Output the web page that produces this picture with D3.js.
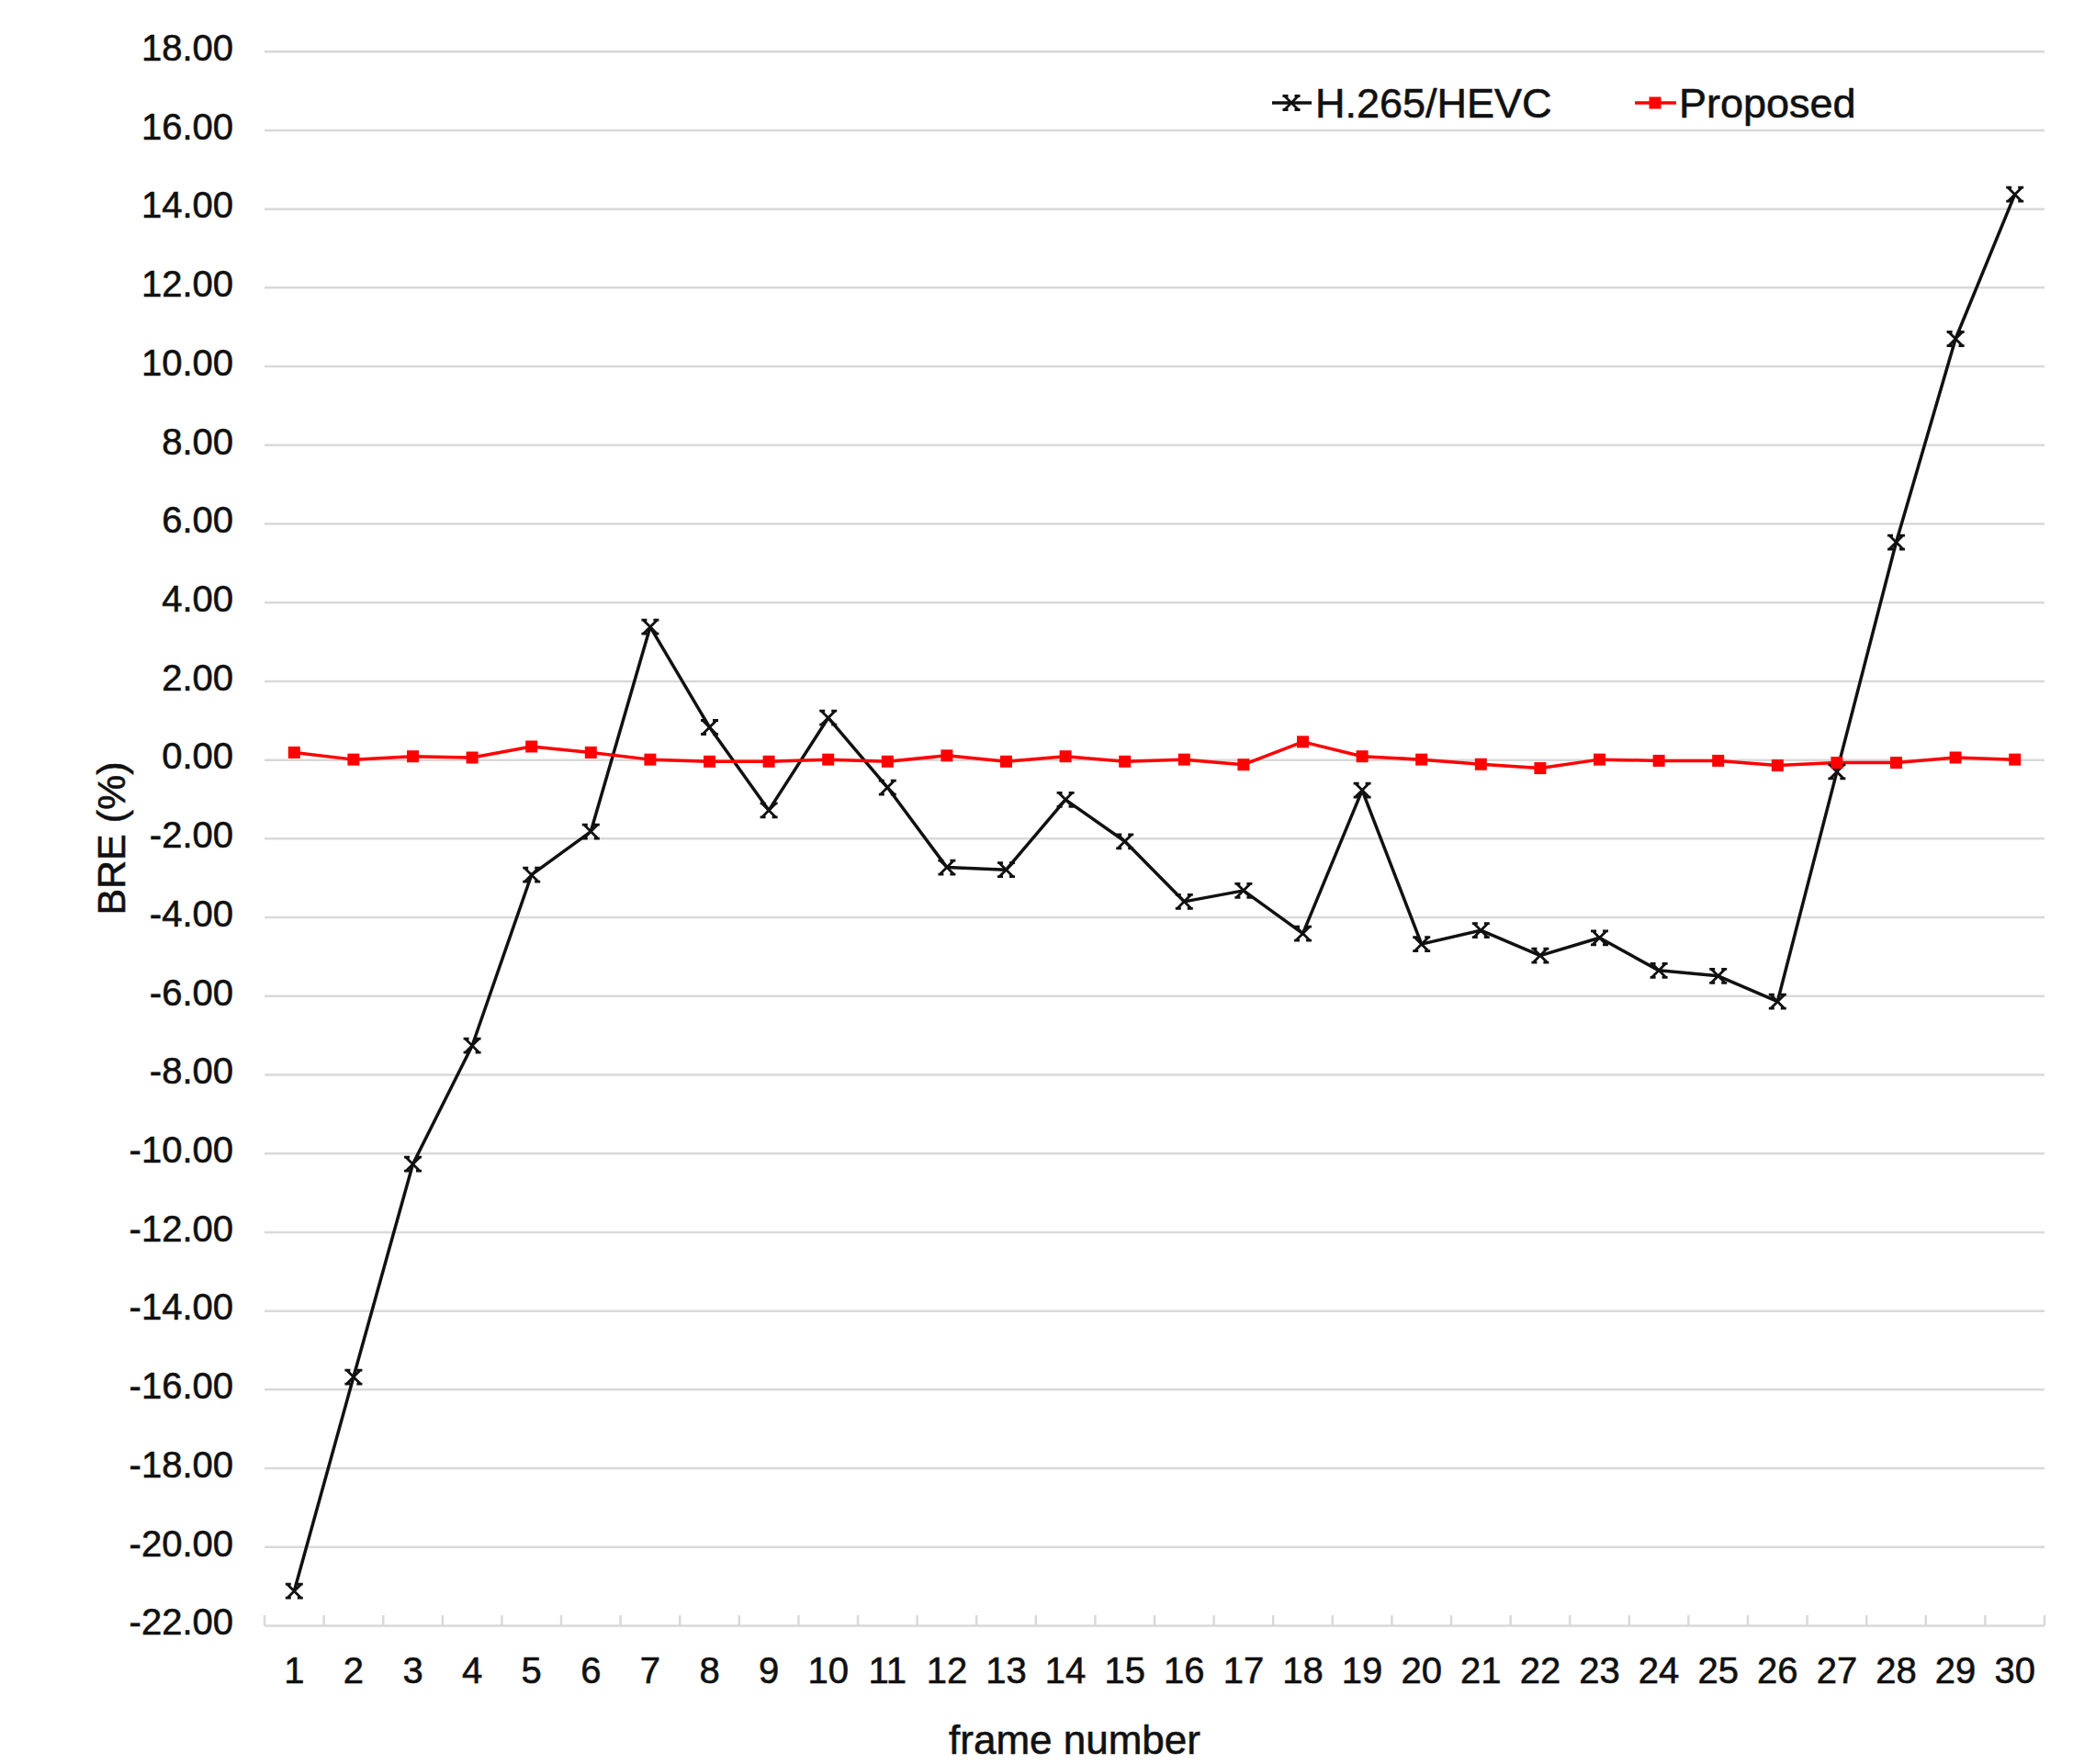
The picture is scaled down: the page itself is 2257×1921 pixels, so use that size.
<!DOCTYPE html>
<html>
<head>
<meta charset="utf-8">
<script src="https://cdn.jsdelivr.net/npm/d3@7"></script>
<style>
  html, body { margin: 0; padding: 0; background: #ffffff; }
  svg { display: block; font-family: "Liberation Sans", Arial, sans-serif; }
  text { stroke: #111; stroke-width: 0.6px; }
</style>
</head>
<body>
<script>
// ---- data ----
const frames = d3.range(1, 31);
const hevc = [-21.13, -15.69, -10.28, -7.27, -2.93, -1.83, 3.37, 0.82, -1.29, 1.06,
              -0.71, -2.74, -2.80, -1.02, -2.08, -3.61, -3.33, -4.42, -0.78, -4.69,
              -4.34, -4.98, -4.53, -5.36, -5.50, -6.15, -0.31, 5.52, 10.69, 14.36];
const proposed = [0.18, 0.00, 0.08, 0.05, 0.33, 0.18, 0.00, -0.05, -0.05, 0.00,
                  -0.05, 0.10, -0.05, 0.08, -0.05, 0.00, -0.13, 0.45, 0.08, 0.00,
                  -0.12, -0.22, 0.00, -0.03, -0.03, -0.15, -0.08, -0.08, 0.05, 0.00];
const yTicks = d3.range(-22, 19, 2);
const seriesNames = ["H.265/HEVC", "Proposed"];
const xTitle = "frame number";
const yTitle = "BRE (%)";

// ---- layout ----
const W = 2257, H = 1921;
const plotL = 288, plotR = 2226, plotT = 55.7, plotB = 1770;
const gridColor = "#d9d9d9";

const svg = d3.select("body").append("svg").attr("width", W).attr("height", H);
svg.append("rect").attr("width", W).attr("height", H).attr("fill", "#fff");

const x = d3.scaleBand().domain(frames).range([plotL, plotR]).padding(0);
const y = d3.scaleLinear().domain([-22, 18]).range([plotB, plotT]);
const cx = d => x(d) + x.bandwidth() / 2;

// y axis with gridlines
const yAxis = d3.axisLeft(y)
  .tickValues(yTicks)
  .tickSize(-(plotR - plotL))
  .tickPadding(34)
  .tickFormat(d => d.toFixed(2));
const gy = svg.append("g").attr("transform", `translate(${plotL},0)`).call(yAxis);
gy.select(".domain").remove();
gy.selectAll(".tick line").attr("stroke", gridColor).attr("stroke-width", 2.5);
gy.selectAll(".tick text")
  .attr("font-size", 40).attr("fill", "#111")
  .attr("font-family", "Liberation Sans, Arial, sans-serif")
  .attr("transform", "translate(0,-3)");

// x axis labels
const xAxis = d3.axisBottom(x).tickSize(0).tickPadding(35);
const gx = svg.append("g").attr("transform", `translate(0,${plotB})`).call(xAxis);
gx.select(".domain").remove();
gx.selectAll(".tick text")
  .attr("font-size", 40).attr("fill", "#111")
  .attr("font-family", "Liberation Sans, Arial, sans-serif");

// x-axis boundary tick marks (upward)
const bounds = frames.map(d => x(d)).concat([plotR]);
svg.append("g").selectAll("line").data(bounds).join("line")
  .attr("x1", d => d).attr("x2", d => d)
  .attr("y1", plotB).attr("y2", plotB - 11)
  .attr("stroke", gridColor).attr("stroke-width", 2.5);

// lines
const line = d3.line().x((d, i) => cx(frames[i])).y(d => y(d));

svg.append("path").datum(hevc).attr("d", line)
  .attr("fill", "none").attr("stroke", "#111").attr("stroke-width", 3.5)
  .attr("stroke-linejoin", "round");

svg.append("path").datum(proposed).attr("d", line)
  .attr("fill", "none").attr("stroke", "#ff0000").attr("stroke-width", 3.5)
  .attr("stroke-linejoin", "round");

// markers
const xMark = s => `M${-s},${-s}L${s},${s}M${-s},${s}L${s},${-s}M${-s-2},${-s}L${-s+4},${-s}M${s-4},${-s}L${s+2},${-s}M${-s-2},${s}L${-s+4},${s}M${s-4},${s}L${s+2},${s}`;
svg.append("g").selectAll("path").data(hevc).join("path")
  .attr("transform", (d, i) => `translate(${cx(frames[i])},${y(d)})`)
  .attr("d", xMark(7.5))
  .attr("fill", "none").attr("stroke", "#111").attr("stroke-width", 2.8);

svg.append("g").selectAll("rect").data(proposed).join("rect")
  .attr("x", (d, i) => cx(frames[i]) - 6.5)
  .attr("y", d => y(d) - 6.5)
  .attr("width", 13).attr("height", 13)
  .attr("fill", "#ff0000");

// legend
const legY = 112;
const leg = svg.append("g");
leg.append("line").attr("x1", 1385).attr("x2", 1428).attr("y1", legY).attr("y2", legY)
  .attr("stroke", "#111").attr("stroke-width", 3.5);
leg.append("path").attr("transform", `translate(1406,${legY})`).attr("d", xMark(7.5))
  .attr("fill", "none").attr("stroke", "#111").attr("stroke-width", 2.8);
leg.append("text").attr("x", 1432).attr("y", legY + 16)
  .attr("font-size", 45).attr("fill", "#111").text(seriesNames[0]);

leg.append("line").attr("x1", 1780).attr("x2", 1825).attr("y1", legY).attr("y2", legY)
  .attr("stroke", "#ff0000").attr("stroke-width", 3.5);
leg.append("rect").attr("x", 1795.5).attr("y", legY - 6.5).attr("width", 13).attr("height", 13)
  .attr("fill", "#ff0000");
leg.append("text").attr("x", 1828).attr("y", legY + 16)
  .attr("font-size", 45).attr("fill", "#111").text(seriesNames[1]);

// axis titles
svg.append("text").attr("x", 1170).attr("y", 1910).attr("text-anchor", "middle")
  .attr("font-size", 44).attr("fill", "#111").text(xTitle);

svg.append("text")
  .attr("transform", "translate(136,913) rotate(-90)")
  .attr("text-anchor", "middle")
  .attr("font-size", 43).attr("fill", "#111").text(yTitle);
</script>
</body>
</html>
